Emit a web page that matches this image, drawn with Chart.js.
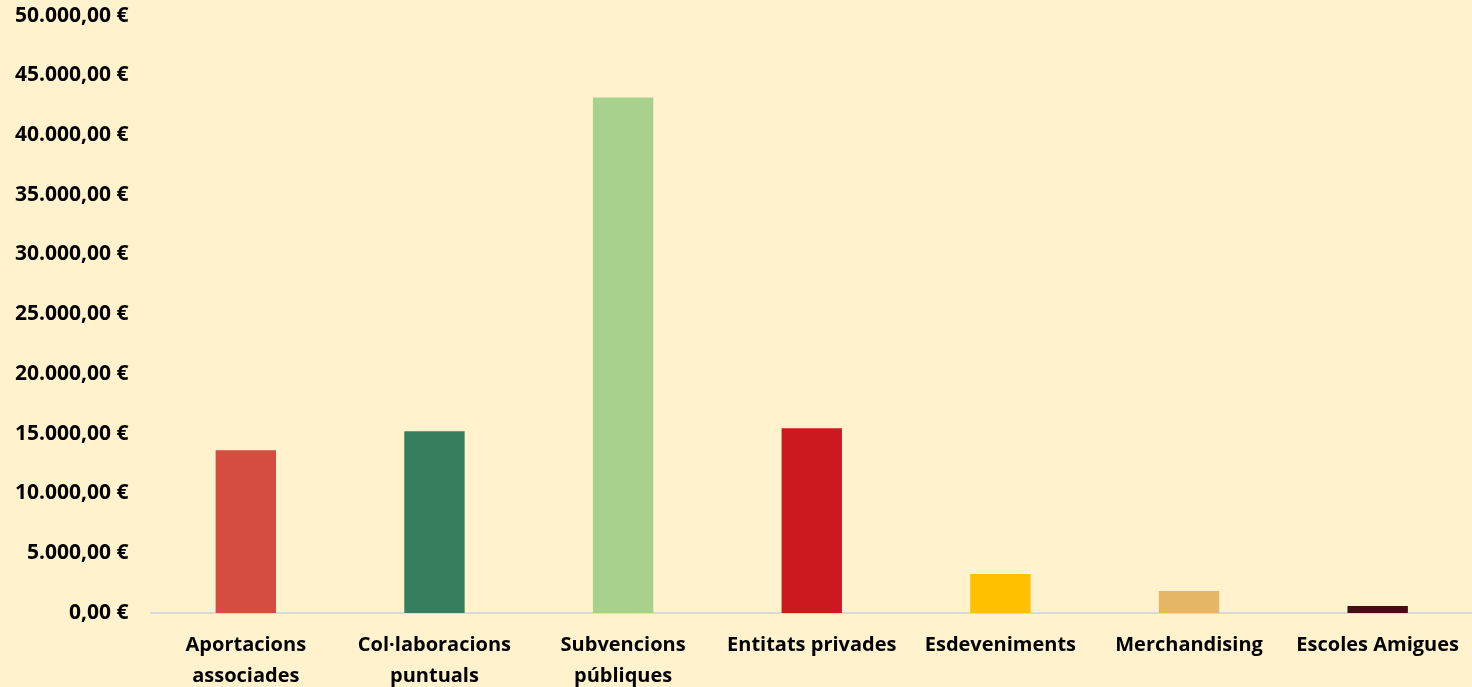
<!DOCTYPE html>
<html>
<head>
<meta charset="utf-8">
<script src="https://cdn.jsdelivr.net/npm/chart.js"></script>
<style>
  html, body { margin: 0; padding: 0; background: #FFF2CC; }
  #wrap { width: 1472px; height: 687px; }
</style>
</head>
<body>
<div id="wrap"><canvas id="ingressos"></canvas></div>
<script>
const categories = [
  ['Aportacions', 'associades'],
  ['Col·laboracions', 'puntuals'],
  ['Subvencions', 'públiques'],
  'Entitats privades',
  'Esdeveniments',
  'Merchandising',
  'Escoles Amigues'
];
const amounts = [13630, 15220, 43140, 15470, 3260, 1840, 590];
const barColors = ['#D44D40', '#377E5E', '#A9D18E', '#CC181E', '#FFC000', '#E5B665', '#4A0A14'];

const euro = v => v.toLocaleString('de-DE', { minimumFractionDigits: 2, maximumFractionDigits: 2 }) + ' €';

Chart.defaults.color = '#000000';
Chart.defaults.font.family = 'Open Sans';
Chart.defaults.font.weight = 'bold';
Chart.defaults.font.size = 20;

new Chart(document.getElementById('ingressos'), {
  type: 'bar',
  data: {
    labels: categories,
    datasets: [{
      data: amounts,
      backgroundColor: barColors,
      barPercentage: 0.32,
      categoryPercentage: 1
    }]
  },
  options: {
    responsive: true,
    maintainAspectRatio: false,
    animation: false,
    layout: { padding: { left: 0, top: 14, right: 0, bottom: -14 } },
    plugins: {
      legend: { display: false },
      tooltip: { enabled: false }
    },
    scales: {
      y: {
        min: 0,
        max: 50000,
        ticks: { stepSize: 5000, padding: 15, font: { size: 21, lineHeight: 0.05 }, callback: v => euro(v) },
        grid: { display: false },
        border: { display: false }
      },
      x: {
        ticks: { padding: 9, maxRotation: 0, font: { lineHeight: 1.55 } },
        grid: { display: false },
        border: { display: true, color: '#D9D9D9', width: 2 }
      }
    }
  }
});
</script>
</body>
</html>
